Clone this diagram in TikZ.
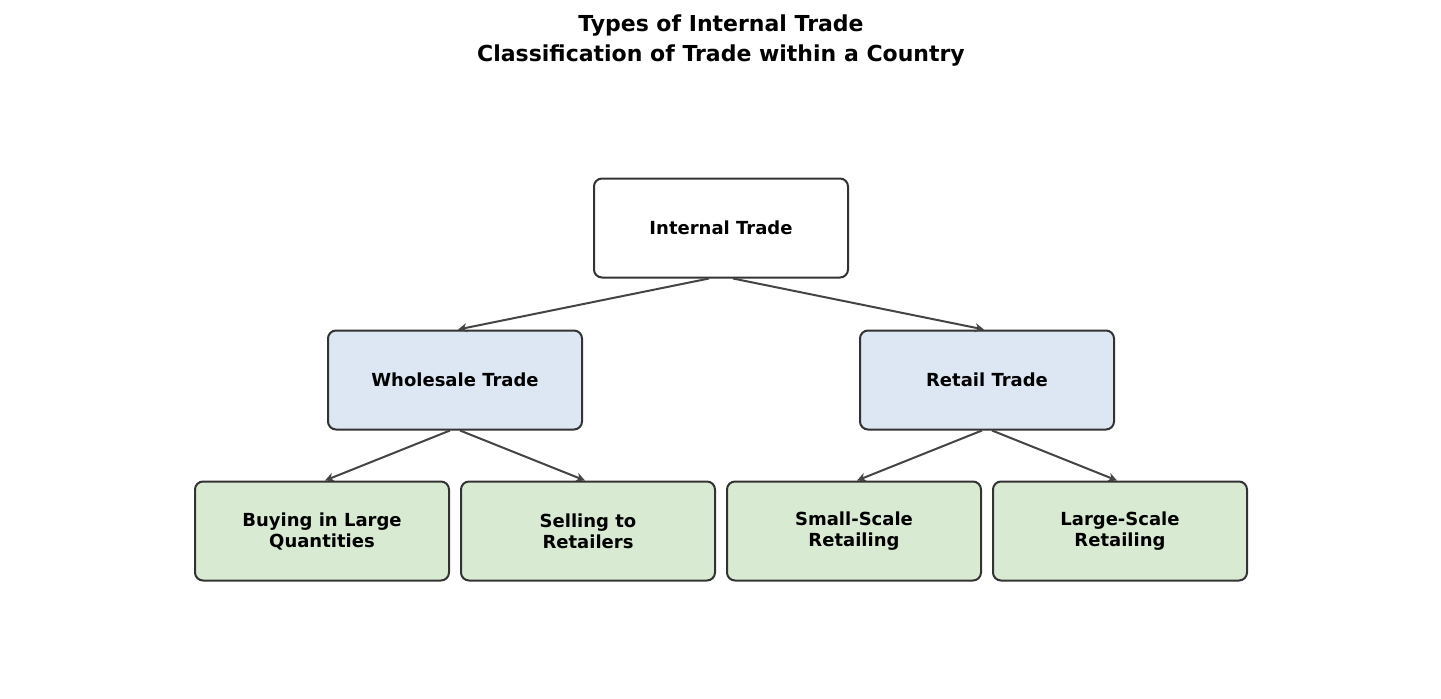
\documentclass[tikz,border=0pt]{standalone}
\usepackage{fontspec}
\setmainfont{DejaVu Sans}
\usetikzlibrary{arrows.meta}
\definecolor{bluef}{HTML}{DCE7F3}
\definecolor{greenf}{HTML}{D9EAD3}
\definecolor{edgec}{HTML}{333333}
\definecolor{arrc}{HTML}{444444}
\begin{document}
\begin{tikzpicture}[x=1pt,y=-1pt,
  box/.style={draw=edgec,line width=2pt,rounded corners=8pt,minimum width=254pt,minimum height=99pt,align=center,font=\fontsize{18}{21}\selectfont\bfseries,inner sep=0pt},
  arr/.style={draw=arrc,line width=2pt,-{Stealth[length=9pt,width=9pt]}}]
\useasboundingbox (0,0) rectangle (1441,699);
\node[font=\fontsize{22}{30}\selectfont\bfseries,align=center] (title) at (721,41) {Types of Internal Trade\\Classification of Trade within a Country};
\node[box,fill=white] (it) at (721,228) {Internal Trade};
\node[box,fill=bluef] (wt) at (455,380) {Wholesale Trade};
\node[box,fill=bluef] (rt) at (987,380) {Retail Trade};
\node[box,fill=greenf] (b1) at (322,531) {Buying in Large\\Quantities};
\node[box,fill=greenf] (b2) at (588,531) {Selling to\\Retailers};
\node[box,fill=greenf] (b3) at (854,531) {Small-Scale\\Retailing};
\node[box,fill=greenf] (b4) at (1120,531) {Large-Scale\\Retailing};
\draw[arr] ([xshift=-12pt]it.south) -- ([xshift=3pt]wt.north);
\draw[arr] ([xshift=12pt]it.south) -- ([xshift=-3pt]rt.north);
\draw[arr] ([xshift=-5pt]wt.south) -- ([xshift=3pt]b1.north);
\draw[arr] ([xshift=5pt]wt.south) -- ([xshift=-3pt]b2.north);
\draw[arr] ([xshift=-5pt]rt.south) -- ([xshift=3pt]b3.north);
\draw[arr] ([xshift=5pt]rt.south) -- ([xshift=-3pt]b4.north);
\end{tikzpicture}
\end{document}
